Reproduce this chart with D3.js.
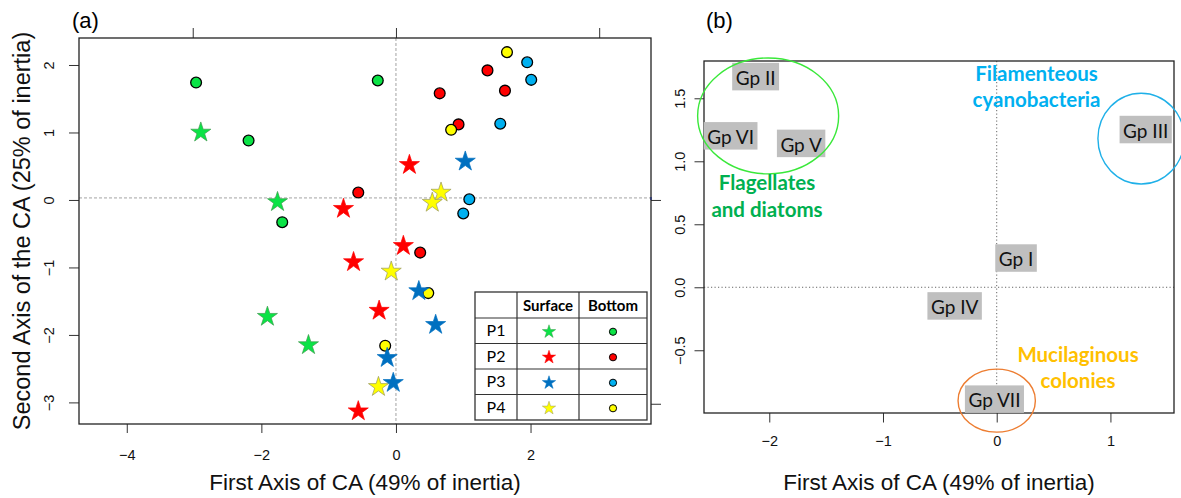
<!DOCTYPE html>
<html><head><meta charset="utf-8">
<script src="https://cdn.jsdelivr.net/npm/d3@7"></script>
<style>body{margin:0;background:#fff}svg{display:block}</style>
</head><body><svg id="c" width="1181" height="498"></svg>
<script>
// ---------- DATA : panel (a) ----------
const sites = ["P1", "P2", "P3", "P4"];
const p1SurfaceX = [-2.90, -1.76, -1.91, -1.30];
const p1SurfaceY = [1.00, -0.03, -1.73, -2.15];
const p1BottomX  = [-2.97, -2.19, -1.69, -0.27];
const p1BottomY  = [1.74, 0.88, -0.33, 1.77];
const p2SurfaceX = [-0.78, 0.20, 0.11, -0.63, -0.25, -0.56];
const p2SurfaceY = [-0.13, 0.52, -0.68, -0.92, -1.64, -3.13];
const p2BottomX  = [1.36, 0.65, 1.62, 0.93, -0.56, 0.36];
const p2BottomY  = [1.92, 1.58, 1.62, 1.12, 0.11, -0.78];
const p3SurfaceX = [1.03, 0.34, 0.59, -0.13, -0.04];
const p3SurfaceY = [0.57, -1.35, -1.85, -2.34, -2.71];
const p3BottomX  = [1.95, 2.01, 1.55, 1.09, 1.00];
const p3BottomY  = [2.04, 1.78, 1.13, 0.01, -0.20];
const p4SurfaceX = [0.67, 0.54, -0.07, -0.26];
const p4SurfaceY = [0.11, -0.04, -1.06, -2.77];
const p4BottomX  = [1.65, 0.82, 0.48, -0.16];
const p4BottomY  = [2.19, 1.04, -1.38, -2.16];
const aTicksX = [-4, -2, 0, 2];
const aTicksY = [-3, -2, -1, 0, 1, 2];
const aTicksTop = [-1, 0, 1];
const aTicksRight = [-1, 0];

// ---------- DATA : panel (b) ----------
const groupNames = ["Gp I", "Gp II", "Gp III", "Gp IV", "Gp V", "Gp VI", "Gp VII"];
const groupX = [0.17, -2.12, 1.31, -0.37, -1.72, -2.34, -0.02];
const groupY = [0.23, 1.67, 1.25, -0.15, 1.14, 1.20, -0.89];
const clusterCX = [-2.01, 1.27, 0.00];
const clusterCY = [1.36, 1.18, -0.90];
const clusterRX = [0.62, 0.38, 0.34];
const clusterRY = [0.46, 0.36, 0.25];
const clusterLines = [["Flagellates", "and diatoms"], ["Filamenteous", "cyanobacteria"], ["Mucilaginous", "colonies"]];
const clusterLabelX = [-2.02, 0.35, 0.715];
const clusterLabelY = [0.77, 1.64, -0.59];
const bTicksX = [-2, -1, 0, 1];
const bTicksY = [-0.5, 0, 0.5, 1, 1.5];

// ---------- STYLE ----------
const starFill   = ["#0be346", "#ff0000", "#0070c0", "#ffff00"];
const starStroke = ["#3c9c4c", "#ff0000", "#0070c0", "#9a9a60"];
const dotFill    = ["#0be346", "#ff0000", "#00b0f0", "#ffff00"];
const ellipseColor = ["#3ae83a", "#1fb0e8", "#ed7d31"];
const clusterTextColor = ["#00b050", "#00b0f0", "#ffc000"];
const RF = "'Liberation Sans', Arial, sans-serif";
const CF = "Lato, 'Open Sans', sans-serif";
const minus = d => (d < 0 ? "\u2212" + Math.abs(d) : String(d));
const minus1 = d => (d < 0 ? "\u2212" + Math.abs(d).toFixed(1) : d.toFixed(1));

const svg = d3.select("#c");
svg.append("rect").attr("width", 1181).attr("height", 498).attr("fill", "#fff");

// ================= PANEL A =================
const ax = d3.scaleLinear().domain([-4.71, 3.79]).range([79, 651]);
const ay = d3.scaleLinear().domain([2.40, -3.32]).range([38, 424]);
const ax2 = d3.scaleLinear().domain(ax.domain().map(d => d / 3.02)).range(ax.range());
const ay2 = d3.scaleLinear().domain(ay.domain().map(d => d / 3.02)).range(ay.range());
const gA = svg.append("g");

function styleAxis(g) {
  g.select(".domain").remove();
  g.selectAll("line").attr("stroke", "#333").attr("stroke-width", 1);
  g.selectAll("text").attr("fill", "#111").attr("font-family", RF).attr("font-size", 14.5);
}

// bottom
gA.append("g").attr("transform", `translate(0,${ay.range()[1]})`)
  .call(d3.axisBottom(ax).tickValues(aTicksX).tickSize(9).tickFormat(minus))
  .call(styleAxis)
  .call(g => g.selectAll("text").attr("y", 36).attr("dy", 0));
// left
gA.append("g").attr("transform", `translate(${ax.range()[0]},0)`)
  .call(d3.axisLeft(ay).tickValues(aTicksY).tickSize(10).tickFormat(minus))
  .call(styleAxis)
  .call(g => g.selectAll("text").attr("transform", "rotate(-90)").attr("x", 0).attr("y", -25)
    .attr("dy", 0).attr("text-anchor", "middle"));
// top secondary
gA.append("g").attr("transform", `translate(0,${ay.range()[0]})`)
  .call(d3.axisTop(ax2).tickValues(aTicksTop).tickSize(10).tickFormat(""))
  .call(styleAxis);
// right secondary
gA.append("g").attr("transform", `translate(${ax.range()[1]},0)`)
  .call(d3.axisRight(ay2).tickValues(aTicksRight).tickSize(10).tickFormat(""))
  .call(styleAxis);

// reference dashed lines
gA.append("line").attr("x1", ax(0)).attr("x2", ax(0)).attr("y1", ay.range()[0]).attr("y2", ay.range()[1])
  .attr("stroke", "#999").attr("stroke-dasharray", "3,2").attr("stroke-width", 0.9);
gA.append("line").attr("x1", ax.range()[0]).attr("x2", ax.range()[1]).attr("y1", ay(0.03)).attr("y2", ay(0.03))
  .attr("stroke", "#999").attr("stroke-dasharray", "3,2").attr("stroke-width", 0.9);
// small blue arrow tip
gA.append("line").attr("x1", ax.range()[1]).attr("x2", ax.range()[1]).attr("y1", ay(0.03) - 1).attr("y2", ay(0.03) + 2)
  .attr("stroke", "#3050ff").attr("stroke-width", 1.5);

// box
gA.append("rect").attr("x", ax.range()[0]).attr("y", ay.range()[0])
  .attr("width", ax.range()[1] - ax.range()[0]).attr("height", ay.range()[1] - ay.range()[0])
  .attr("fill", "none").attr("stroke", "#222").attr("stroke-width", 1.3);

const surfX = [p1SurfaceX, p2SurfaceX, p3SurfaceX, p4SurfaceX];
const surfY = [p1SurfaceY, p2SurfaceY, p3SurfaceY, p4SurfaceY];
const botX = [p1BottomX, p2BottomX, p3BottomX, p4BottomX];
const botY = [p1BottomY, p2BottomY, p3BottomY, p4BottomY];
const star = d3.symbol(d3.symbolStar, 125);
const starSmall = d3.symbol(d3.symbolStar, 55);

function drawStars(i) {
  gA.append("g").selectAll("path").data(surfX[i].map((x, k) => [x, surfY[i][k]])).join("path")
    .attr("d", star).attr("transform", d => `translate(${ax(d[0])},${ay(d[1])})`)
    .attr("fill", starFill[i]).attr("stroke", starStroke[i]).attr("stroke-width", 0.7);
}
function drawDots(i) {
  gA.append("g").selectAll("circle").data(botX[i].map((x, k) => [x, botY[i][k]])).join("circle")
    .attr("cx", d => ax(d[0])).attr("cy", d => ay(d[1])).attr("r", 5.4)
    .attr("fill", dotFill[i]).attr("stroke", "#000").attr("stroke-width", 1.3);
}
drawStars(0); drawDots(0); drawStars(1); drawDots(1); drawDots(2); drawStars(3); drawDots(3); drawStars(2);

// legend table
const colX = [475, 517, 579, 647];
const rowY = [292, 318, 343.5, 369, 394.5, 420];
const lg = gA.append("g");
lg.append("rect").attr("x", colX[0]).attr("y", rowY[0]).attr("width", colX[3] - colX[0]).attr("height", rowY[5] - rowY[0])
  .attr("fill", "#fff").attr("stroke", "#333").attr("stroke-width", 1.3);
colX.slice(1, 3).forEach(x => lg.append("line").attr("x1", x).attr("x2", x).attr("y1", rowY[0]).attr("y2", rowY[5]).attr("stroke", "#333").attr("stroke-width", 1.2));
rowY.slice(1, 5).forEach(y => lg.append("line").attr("x1", colX[0]).attr("x2", colX[3]).attr("y1", y).attr("y2", y).attr("stroke", "#333").attr("stroke-width", 1.2));
const cMid = k => (colX[k] + colX[k + 1]) / 2;
const rMid = k => (rowY[k] + rowY[k + 1]) / 2;
lg.append("text").attr("x", cMid(1)).attr("y", rMid(0) + 5.5).attr("text-anchor", "middle").attr("font-family", CF).attr("font-weight", "bold").attr("font-size", 15).text("Surface");
lg.append("text").attr("x", cMid(2)).attr("y", rMid(0) + 5.5).attr("text-anchor", "middle").attr("font-family", CF).attr("font-weight", "bold").attr("font-size", 15).text("Bottom");
sites.forEach((s, i) => {
  lg.append("text").attr("x", cMid(0)).attr("y", rMid(i + 1) + 5.5).attr("text-anchor", "middle").attr("font-family", CF).attr("font-size", 16).text(s);
  lg.append("path").attr("d", starSmall).attr("transform", `translate(${cMid(1) + 1},${rMid(i + 1) + 1})`)
    .attr("fill", starFill[i]).attr("stroke", starStroke[i]).attr("stroke-width", 0.5);
  lg.append("circle").attr("cx", cMid(2)).attr("cy", rMid(i + 1) + 1).attr("r", 3.6)
    .attr("fill", dotFill[i]).attr("stroke", "#000").attr("stroke-width", 1);
});

// titles
gA.append("text").attr("x", 72).attr("y", 28).attr("font-family", RF).attr("font-size", 22).text("(a)");
gA.append("text").attr("x", (ax.range()[0] + ax.range()[1]) / 2).attr("y", 490).attr("text-anchor", "middle")
  .attr("font-family", RF).attr("font-size", 22.5).attr("fill", "#111").text("First Axis of CA (49% of inertia)");
gA.append("text").attr("transform", `translate(30,${(ay.range()[0] + ay.range()[1]) / 2})rotate(-90)`).attr("text-anchor", "middle")
  .attr("font-family", RF).attr("font-size", 23.5).attr("fill", "#111").text("Second Axis of the CA (25% of inertia)");

// ================= PANEL B =================
const bx = d3.scaleLinear().domain([-2.574, 1.559]).range([704, 1174]);
const by = d3.scaleLinear().domain([1.796, -0.998]).range([61, 413]);
const gB = svg.append("g");

gB.append("g").attr("transform", `translate(0,${by.range()[1]})`)
  .call(d3.axisBottom(bx).tickValues(bTicksX).tickSize(9.5).tickFormat(minus))
  .call(styleAxis)
  .call(g => g.selectAll("text").attr("y", 33).attr("dy", 0));
gB.append("g").attr("transform", `translate(${bx.range()[0]},0)`)
  .call(d3.axisLeft(by).tickValues(bTicksY).tickSize(9.5).tickFormat(minus1))
  .call(styleAxis)
  .call(g => g.selectAll("text").attr("transform", "rotate(-90)").attr("x", 0).attr("y", -19)
    .attr("dy", 0).attr("text-anchor", "middle"));

gB.append("line").attr("x1", bx(0)).attr("x2", bx(0)).attr("y1", by.range()[0]).attr("y2", by.range()[1])
  .attr("stroke", "#666").attr("stroke-dasharray", "1.2,2.3").attr("stroke-width", 1);
gB.append("line").attr("x1", bx.range()[0]).attr("x2", bx.range()[1]).attr("y1", by(0)).attr("y2", by(0))
  .attr("stroke", "#666").attr("stroke-dasharray", "1.2,2.3").attr("stroke-width", 1);

gB.append("rect").attr("x", bx.range()[0]).attr("y", by.range()[0])
  .attr("width", bx.range()[1] - bx.range()[0]).attr("height", by.range()[1] - by.range()[0])
  .attr("fill", "none").attr("stroke", "#222").attr("stroke-width", 1.3);

// group labels with grey boxes
groupNames.forEach((n, i) => {
  const g = gB.append("g");
  const cx = bx(groupX[i]), cy = by(groupY[i]);
  const t = g.append("text").attr("x", cx).attr("y", cy + 8).attr("text-anchor", "middle")
    .attr("font-family", CF).attr("font-size", 19).attr("fill", "#111").text(n);
  const w = t.node().getComputedTextLength();
  g.insert("rect", "text").attr("x", cx - w / 2 - 3.5).attr("y", cy - 14).attr("width", w + 7).attr("height", 27.5)
    .attr("fill", "#bfbfbf");
});

// cluster ellipses
clusterCX.forEach((c, i) => {
  gB.append("ellipse").attr("cx", bx(c)).attr("cy", by(clusterCY[i]))
    .attr("rx", bx(c + clusterRX[i]) - bx(c)).attr("ry", by(clusterCY[i] - clusterRY[i]) - by(clusterCY[i]))
    .attr("fill", "none").attr("stroke", ellipseColor[i]).attr("stroke-width", 1.4);
  const t = gB.append("text").attr("text-anchor", "middle").attr("font-family", CF).attr("font-weight", "bold")
    .attr("font-size", 20.5).attr("fill", clusterTextColor[i]);
  clusterLines[i].forEach((line, k) => {
    t.append("tspan").attr("x", bx(clusterLabelX[i])).attr("y", by(clusterLabelY[i]) + k * 26.5).text(line);
  });
});

gB.append("text").attr("x", 706).attr("y", 28).attr("font-family", RF).attr("font-size", 22).text("(b)");
gB.append("text").attr("x", (bx.range()[0] + bx.range()[1]) / 2).attr("y", 490).attr("text-anchor", "middle")
  .attr("font-family", RF).attr("font-size", 22.5).attr("fill", "#111").text("First Axis of CA (49% of inertia)");
</script></body></html>
